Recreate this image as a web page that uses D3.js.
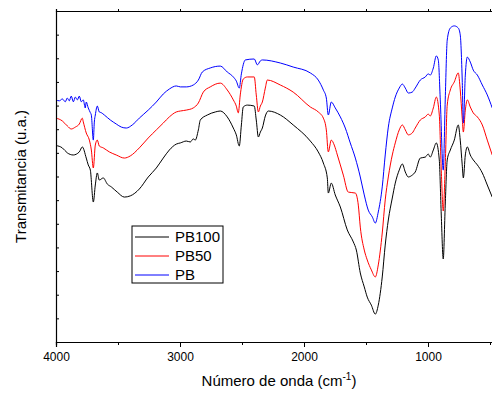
<!DOCTYPE html>
<html>
<head>
<meta charset="utf-8">
<script src="https://cdn.jsdelivr.net/npm/d3@7"></script>
<style>
  html, body { margin: 0; padding: 0; background: #fff; }
  svg { display: block; font-family: Arial, "Liberation Sans", sans-serif; }
</style>
</head>
<body>
<div id="chart"></div>
<script>
// ── Data: [wavenumber (cm-1), transmittance (a.u.)]
const pb100 = [[4000,8.31],[3949,8.21],[3909,8.0],[3861,7.91],[3812,8.04],[3788,8.25],[3756,7.78],[3740,7.49],[3723,7.27],[3699,5.92],[3683,6.64],[3667,7.15],[3651,6.85],[3619,6.94],[3586,6.68],[3554,6.56],[3506,6.34],[3449,6.13],[3401,6.18],[3328,6.47],[3256,6.98],[3191,7.36],[3135,7.78],[3086,8.12],[3030,8.37],[2997,8.42],[2949,8.50],[2917,8.46],[2893,8.59],[2877,8.54],[2852,8.97],[2836,9.39],[2780,9.60],[2715,9.73],[2675,9.77],[2619,9.52],[2570,9.05],[2546,8.76],[2522,8.29],[2505,9.18],[2490,9.94],[2457,10.02],[2401,9.98],[2385,9.39],[2368,8.67],[2352,8.88],[2336,9.05],[2312,9.56],[2288,9.77],[2191,9.60],[2087,9.18],[1949,8.50],[1885,8.04],[1844,7.57],[1812,6.94],[1804,6.30],[1780,6.72],[1748,6.22],[1707,5.71],[1651,4.74],[1602,4.23],[1578,3.89],[1546,2.92],[1514,2.33],[1490,1.90],[1457,1.56],[1425,1.18],[1401,1.56],[1369,2.75],[1345,4.10],[1320,5.16],[1288,6.09],[1264,6.72],[1232,7.27],[1207,7.53],[1183,7.19],[1159,6.98],[1127,7.06],[1103,7.19],[1062,7.78],[1022,7.82],[998,7.95],[982,7.82],[957,8.12],[933,8.42],[909,7.70],[893,5.37],[877,3.51],[861,5.79],[845,7.70],[820,8.12],[788,8.54],[756,9.18],[740,8.54],[724,7.49],[715,6.94],[699,7.91],[683,8.25],[659,7.91],[635,7.70],[602,7.49],[562,7.15],[522,6.64],[482,6.13]];

const pb50 = [[4000,9.47],[3949,9.35],[3909,9.14],[3877,9.01],[3844,9.09],[3812,9.22],[3788,9.47],[3780,9.31],[3756,8.84],[3731,8.54],[3715,8.12],[3699,7.36],[3683,8.33],[3667,8.54],[3651,8.29],[3619,8.21],[3570,8.04],[3514,7.91],[3449,7.78],[3401,7.87],[3328,8.21],[3256,8.63],[3191,8.97],[3135,9.26],[3086,9.52],[3030,9.73],[2997,9.77],[2949,9.81],[2893,9.90],[2852,10.11],[2812,10.57],[2756,10.79],[2675,10.95],[2619,10.66],[2570,10.24],[2546,9.98],[2530,9.69],[2514,10.45],[2490,11.12],[2457,11.21],[2401,11.21],[2385,10.45],[2368,9.73],[2352,9.98],[2336,10.15],[2312,10.74],[2296,11.08],[2191,10.87],[2087,10.57],[1949,9.94],[1885,9.73],[1844,9.47],[1820,8.97],[1804,8.04],[1780,8.54],[1756,8.33],[1731,7.91],[1683,7.06],[1643,6.34],[1586,6.30],[1562,5.79],[1546,4.86],[1514,3.89],[1490,3.47],[1457,3.05],[1425,2.75],[1401,3.26],[1369,4.61],[1345,6.01],[1320,6.98],[1288,7.91],[1264,8.42],[1232,8.97],[1207,9.18],[1183,8.97],[1159,8.76],[1127,8.84],[1103,9.05],[1062,9.39],[1022,9.52],[998,9.64],[982,9.56],[957,9.90],[933,10.36],[909,9.60],[893,7.27],[877,5.54],[861,7.49],[845,10.02],[820,10.66],[788,11.00],[756,11.38],[740,10.66],[724,9.47],[715,8.88],[699,9.81],[683,10.24],[659,9.94],[635,9.69],[602,9.52],[562,9.18],[522,8.54],[482,7.91]];

const pb = [[4000,10.24],[3973,10.20],[3949,10.28],[3925,10.16],[3909,10.32],[3893,10.20],[3877,10.40],[3860,10.16],[3844,10.36],[3828,10.24],[3812,10.40],[3796,10.16],[3780,10.24],[3764,9.90],[3756,10.15],[3740,9.90],[3723,9.70],[3715,9.60],[3699,8.54],[3691,9.30],[3683,9.60],[3667,9.98],[3651,9.73],[3635,9.70],[3610,9.60],[3562,9.39],[3514,9.22],[3473,9.09],[3433,9.05],[3385,9.18],[3328,9.47],[3256,9.81],[3191,10.15],[3135,10.49],[3086,10.70],[3030,10.83],[2997,10.79],[2949,10.79],[2893,10.87],[2852,11.08],[2820,11.42],[2756,11.59],[2675,11.67],[2619,11.42],[2570,11.21],[2546,11.04],[2522,10.74],[2505,11.34],[2473,11.93],[2401,11.97],[2376,11.72],[2352,11.89],[2336,11.93],[2191,11.80],[2087,11.63],[1949,11.38],[1885,11.08],[1844,10.66],[1820,10.32],[1804,9.60],[1780,10.15],[1748,9.90],[1707,9.52],[1667,9.05],[1627,8.42],[1586,7.78],[1546,6.98],[1514,6.22],[1482,5.58],[1449,5.29],[1425,5.03],[1401,5.50],[1369,6.56],[1345,7.91],[1320,9.09],[1288,9.90],[1264,10.36],[1232,10.74],[1207,10.91],[1183,10.74],[1159,10.53],[1127,10.57],[1103,10.74],[1062,11.08],[1022,11.21],[998,11.34],[982,11.29],[957,11.59],[933,12.10],[917,11.93],[901,10.24],[877,7.27],[861,10.24],[845,12.77],[820,13.28],[788,13.37],[756,13.28],[740,12.99],[724,11.08],[715,9.26],[699,11.29],[683,12.05],[659,11.84],[635,11.50],[602,11.29],[562,10.87],[522,10.45],[482,9.90]];

const seriesNames = ["PB100", "PB50", "PB"];
const seriesColors = ["#000000", "#ff0000", "#0000ff"];
const seriesData = [pb100, pb50, pb];

const xMajorTicks = [4000, 3000, 2000, 1000];
const xMinorTicks = [3500, 2500, 1500, 500];
const yTicks = d3.range(0, 15); // unlabeled, 14 intervals

// ── Layout
const W = 492, H = 394;
const plotLeft = 56, plotTop = 11, plotBottom = 342;

const svg = d3.select("#chart").append("svg")
  .attr("width", W).attr("height", H);

const x = d3.scaleLinear().domain([4000, 400]).range([plotLeft, plotLeft + 3600 * 0.124]);
const y = d3.scaleLinear().domain([0, 14]).range([plotBottom, plotTop]);

// clip the plot to the visible area
svg.append("clipPath").attr("id", "plot-clip")
  .append("rect").attr("x", plotLeft).attr("y", plotTop)
  .attr("width", W - plotLeft).attr("height", plotBottom - plotTop);

// ── Curves
const line = d3.line()
  .x((d) => x(d[0]))
  .y((d) => y(d[1]))
  .curve(d3.curveMonotoneX);

svg.append("g").attr("clip-path", "url(#plot-clip)")
  .selectAll("path")
  .data(seriesData)
  .join("path")
  .attr("d", line)
  .attr("fill", "none")
  .attr("stroke", (d, i) => seriesColors[i])
  .attr("stroke-width", 1)
  .attr("stroke-linejoin", "round");

// ── Axes
const xAxis = svg.append("g").attr("transform", `translate(0,${plotBottom})`)
  .call(d3.axisBottom(x).tickValues(xMajorTicks).tickSize(5).tickPadding(5).tickFormat(d3.format("d")));
svg.append("g").attr("transform", `translate(0,${plotBottom})`)
  .call(d3.axisBottom(x).tickValues(xMinorTicks).tickSize(3).tickFormat(""));
xAxis.selectAll("text")
  .attr("font-size", 12)
  .attr("font-family", "Arial, 'Liberation Sans', sans-serif")
  .attr("fill", "#000");

// top axis (mirror, no labels)
svg.append("g").attr("transform", `translate(0,${plotTop})`)
  .call(d3.axisTop(x).tickValues(xMajorTicks.concat(xMinorTicks)).tickSize(2).tickFormat(""));

// left axis, ticks inward
svg.append("g").attr("transform", `translate(${plotLeft},0)`)
  .call(d3.axisRight(y).tickValues(yTicks).tickSize(3).tickFormat(""));

svg.selectAll(".domain").attr("stroke", "#000").attr("stroke-width", 1.2);
svg.selectAll(".tick line").attr("stroke", "#000");

// ── Axis titles
svg.append("text")
  .attr("transform", `translate(22,${(plotTop + plotBottom) / 2}) rotate(-90)`)
  .attr("text-anchor", "middle")
  .attr("dominant-baseline", "middle")
  .attr("font-size", 15)
  .text("Transmitancia (u.a.)");

const xt = svg.append("text")
  .attr("x", 279).attr("y", 386)
  .attr("text-anchor", "middle")
  .attr("font-size", 15);
xt.append("tspan").text("Número de onda (cm");
xt.append("tspan").attr("font-size", 10).attr("dy", -6).text("-1");
xt.append("tspan").attr("dy", 6).text(")");

// ── Legend
const legend = svg.append("g").attr("transform", "translate(132,226)");
legend.append("rect")
  .attr("width", 91).attr("height", 57)
  .attr("fill", "#fff").attr("stroke", "#000").attr("stroke-width", 1);
const entry = legend.selectAll("g.entry")
  .data(seriesNames)
  .join("g")
  .attr("class", "entry")
  .attr("transform", (d, i) => `translate(0,${11 + i * 19})`);
entry.append("line")
  .attr("x1", 3).attr("x2", 37)
  .attr("stroke", (d, i) => seriesColors[i]).attr("stroke-width", 1);
entry.append("text")
  .attr("x", 43).attr("dy", "0.35em")
  .attr("font-size", 15)
  .text((d) => d);
</script>
</body>
</html>
